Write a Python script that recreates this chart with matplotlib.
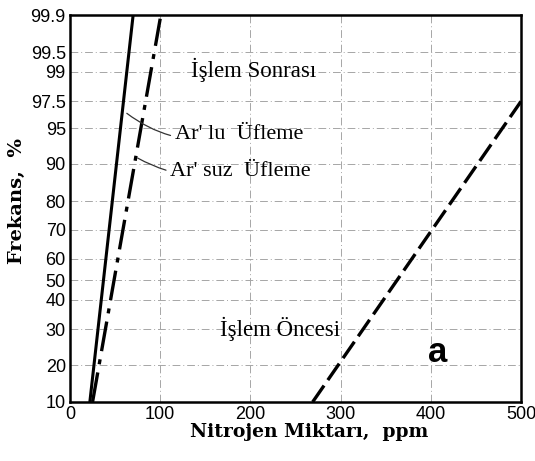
import numpy as np
import matplotlib
matplotlib.use("Agg")
import matplotlib.pyplot as plt

# olasilik ekseni: isaretli yuzdeler ve resimde okunan piksel yerleri
y_isaret = [10, 20, 30, 40, 50, 60, 70, 80, 90, 95, 97.5, 99, 99.5, 99.9]
y_piksel = [400, 363.3, 327.7, 298.3, 278.7, 257.3, 228.7, 200, 162.7, 127.7, 100.7, 71, 51.7, 14.7]
x_isaret = [0, 100, 200, 300, 400, 500]

# cizgiler (ppm, %)
ar_lu_x = [22, 70]
ar_lu_y = [10, 99.9]
ar_suz_x = [25, 100]
ar_suz_y = [10, 99.86]
oncesi_x = [269, 500]
oncesi_y = [10, 97.5]

_t = np.array(y_isaret, dtype=float)
_p = -np.array(y_piksel, dtype=float)


def ileri(v):
    return np.interp(v, _t, _p)


def geri(v):
    return np.interp(v, _p, _t)


SERIF = ["Liberation Serif", "DejaVu Serif"]
SANS = ["Liberation Sans", "DejaVu Sans"]

fig = plt.figure(figsize=(5.35, 4.61), dpi=100)
ax = fig.add_axes([70 / 535, 59 / 461, 451 / 535, 387 / 461])
ax.set_yscale("function", functions=(ileri, geri))
ax.set_xlim(0, 500)
ax.set_ylim(10, 99.9)

ax.set_yticks(y_isaret)
ax.set_yticklabels([f"{v:g}" for v in y_isaret], family=SANS, fontsize=13)
ax.set_xticks(x_isaret)
ax.set_xticklabels([str(v) for v in x_isaret], family=SANS, fontsize=13)
ax.yaxis.set_minor_locator(matplotlib.ticker.NullLocator())
ax.tick_params(length=0, pad=3)

ax.grid(True, color="0.65", lw=0.7, ls=(0, (8, 3, 1, 3)))
for s in ax.spines.values():
    s.set_linewidth(1.8)

ax.plot(ar_lu_x, ar_lu_y, color="black", lw=2.2, solid_capstyle="butt")
ax.plot(ar_suz_x, ar_suz_y, color="black", lw=2.4, ls=(0, (9, 2.5, 1.5, 2.5)))
ax.plot(oncesi_x, oncesi_y, color="black", lw=2.4, ls=(0, (6, 2)))

ax.text(204, 99.05, "İşlem Sonrası", family=SERIF, fontsize=16.5, ha="center", va="center")
ax.annotate("Ar' lu  Üfleme", xy=(63, 96.4), xytext=(116, 94.2),
            family=SERIF, fontsize=16, va="center",
            arrowprops=dict(arrowstyle="-", lw=0.9, color="0.2",
                            connectionstyle="arc3,rad=-0.25", shrinkA=1, shrinkB=0))
ax.annotate("Ar' suz  Üfleme", xy=(75, 90.8), xytext=(111, 88.0),
            family=SERIF, fontsize=16, va="center",
            arrowprops=dict(arrowstyle="-", lw=0.9, color="0.2",
                            connectionstyle="arc3,rad=-0.2", shrinkA=1, shrinkB=0))
ax.text(166, 30, "İşlem Öncesi", family=SERIF, fontsize=16.5, ha="left", va="center")
ax.text(408, 23.5, "a", family=SANS, fontsize=25, fontweight="bold", ha="center", va="center")

ax.set_ylabel("Frekans,  %", family=["DejaVu Serif"], fontsize=14, fontweight="bold")
ax.yaxis.set_label_coords(-0.118, 0.52, transform=ax.transAxes)
ax.yaxis.label.set_va("center")
ax.set_xlabel("Nitrojen Miktarı,  ppm", family=["DejaVu Serif"], fontsize=13.5, fontweight="bold")
ax.xaxis.set_label_coords(0.53, -0.055, transform=ax.transAxes)
ax.xaxis.label.set_va("top")

fig.savefig("out.png", dpi=100)
